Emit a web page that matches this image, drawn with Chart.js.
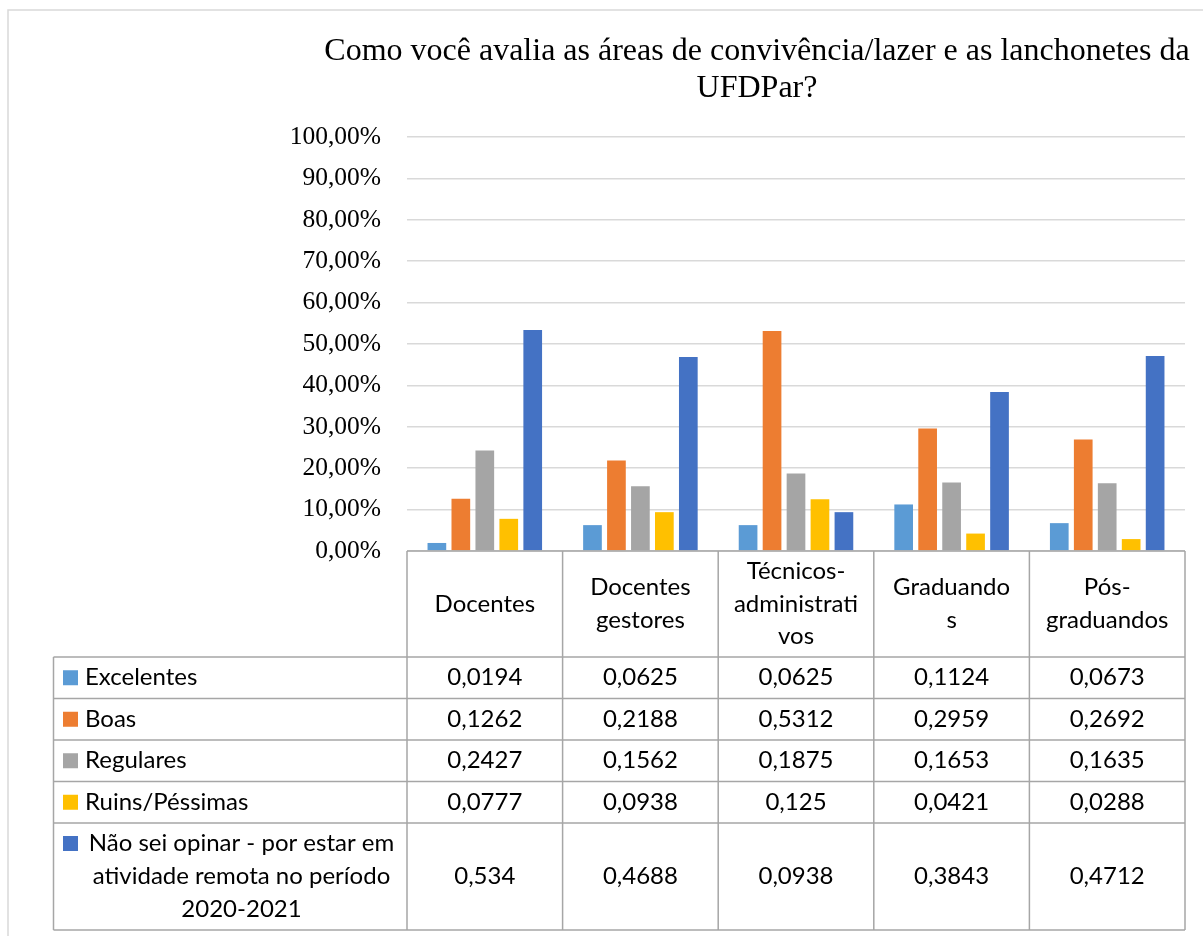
<!DOCTYPE html>
<html>
<head>
<meta charset="utf-8">
<script src="https://cdn.jsdelivr.net/npm/chart.js@4/dist/chart.umd.min.js"></script>
<style>
  html, body { margin: 0; padding: 0; background: #ffffff; }
  canvas { display: block; }
</style>
</head>
<body>
<canvas id="c" width="1203" height="936"></canvas>
<script>
// ---- data ----
const titleLines = ['Como você avalia as áreas de convivência/lazer e as lanchonetes da', 'UFDPar?'];
const categories = [['Docentes'], ['Docentes', 'gestores'], ['Técnicos-', 'administrati', 'vos'], ['Graduando', 's'], ['Pós-', 'graduandos']];
const seriesNames = [['Excelentes'], ['Boas'], ['Regulares'], ['Ruins/Péssimas'], ['Não sei opinar - por estar em', 'atividade remota no período', '2020-2021']];
const excelentes = [0.0194, 0.0625, 0.0625, 0.1124, 0.0673];
const boas = [0.1262, 0.2188, 0.5312, 0.2959, 0.2692];
const regulares = [0.2427, 0.1562, 0.1875, 0.1653, 0.1635];
const ruins = [0.0777, 0.0938, 0.125, 0.0421, 0.0288];
const naoSei = [0.534, 0.4688, 0.0938, 0.3843, 0.4712];
const yTicks = [0, 0.1, 0.2, 0.3, 0.4, 0.5, 0.6, 0.7, 0.8, 0.9, 1.0];

const seriesValues = [excelentes, boas, regulares, ruins, naoSei];
const colors = ['#5B9BD5', '#ED7D31', '#A5A5A5', '#FFC000', '#4472C4'];

const TABLE_FONT = '24px Lato';
const LINE_COLOR = '#a6a6a6';

const tablePlugin = {
  id: 'tablePlugin',
  afterDraw(chart) {
    const ctx = chart.ctx;
    const area = chart.chartArea;
    const xs = chart.scales.x;
    const n = chart.data.labels.length;
    const cw = (area.right - area.left) / n;
    const headerTop = area.bottom;
    const headerBottom = headerTop + 106;
    const rowH = [41.5, 41.5, 41.5, 41.5, 107];
    const tableLeft = 53.5;
    const rowTops = [headerBottom];
    rowH.forEach((h, i) => rowTops.push(rowTops[i] + h));
    const tableBottom = rowTops[rowTops.length - 1];

    ctx.save();
    // outer chart border
    ctx.strokeStyle = '#d9d9d9';
    ctx.lineWidth = 1.5;
    ctx.beginPath();
    ctx.moveTo(8, 936); ctx.lineTo(8, 10); ctx.lineTo(1203, 10);
    ctx.stroke();

    // title
    ctx.fillStyle = '#000';
    ctx.font = '32px "Liberation Serif"';
    ctx.textAlign = 'center';
    ctx.textBaseline = 'alphabetic';
    ctx.fillText(titleLines[0], 757, 60);
    ctx.fillText(titleLines[1], 757, 96.5);

    // table lines
    ctx.strokeStyle = LINE_COLOR;
    ctx.lineWidth = 1.5;
    ctx.beginPath();
    ctx.moveTo(area.left, headerTop); ctx.lineTo(area.right, headerTop);
    rowTops.forEach(y => { ctx.moveTo(tableLeft, y); ctx.lineTo(area.right, y); });
    for (let i = 0; i <= n; i++) {
      const x = area.left + i * cw;
      ctx.moveTo(x, headerTop); ctx.lineTo(x, tableBottom);
    }
    ctx.moveTo(tableLeft, headerBottom); ctx.lineTo(tableLeft, tableBottom);
    ctx.stroke();

    // header labels
    ctx.font = TABLE_FONT;
    ctx.fillStyle = '#000';
    ctx.textBaseline = 'middle';
    ctx.textAlign = 'center';
    const lh = 32.5;
    const hc = (headerTop + headerBottom) / 2;
    chart.data.labels.forEach((lines, i) => {
      const cx = xs.getPixelForValue(i);
      lines.forEach((t, k) => {
        ctx.fillText(t, cx, hc + (k - (lines.length - 1) / 2) * lh);
      });
    });

    // rows
    chart.data.datasets.forEach((ds, r) => {
      const top = rowTops[r], bottom = rowTops[r + 1];
      const cy = (top + bottom) / 2;
      const lines = seriesNames[r];
      const lh2 = 33;
      const firstY = cy - (lines.length - 1) / 2 * lh2;
      // swatch
      ctx.fillStyle = ds.backgroundColor;
      ctx.fillRect(63, firstY - 7.5, 15, 15);
      ctx.fillStyle = '#000';
      if (lines.length === 1) {
        ctx.textAlign = 'left';
        ctx.fillText(lines[0], 85, cy);
      } else {
        ctx.textAlign = 'center';
        const tc = (85 + 398) / 2;
        lines.forEach((t, k) => ctx.fillText(t, tc, firstY + k * lh2));
      }
      ctx.textAlign = 'center';
      ds.data.forEach((v, i) => {
        const cx = xs.getPixelForValue(i);
        ctx.fillText(String(v).replace('.', ','), cx, cy);
      });
    });
    ctx.restore();
  }
};

new Chart(document.getElementById('c'), {
  type: 'bar',
  data: {
    labels: categories,
    datasets: seriesNames.map((nm, i) => ({
      label: nm.join(' '),
      data: seriesValues[i],
      backgroundColor: colors[i],
      borderWidth: 0,
      categoryPercentage: 0.77,
      barPercentage: 0.78
    }))
  },
  options: {
    responsive: false,
    animation: false,
    layout: { padding: { top: 137, right: 18, bottom: 385, left: 0 } },
    plugins: { legend: { display: false }, title: { display: false }, tooltip: { enabled: false } },
    scales: {
      x: { display: false },
      y: {
        min: 0, max: 1,
        afterBuildTicks(s) { s.ticks = yTicks.map(v => ({ value: v })); },
        afterFit(s) { s.width = 407; },
        ticks: {
          padding: 26,
          color: '#000',
          font: { family: 'Liberation Serif', size: 25.5 },
          callback: v => (Math.round(v * 100)).toFixed(2).replace('.', ',') + '%'
        },
        grid: { color: '#d9d9d9', lineWidth: 1.5, drawTicks: false },
        border: { display: false }
      }
    }
  },
  plugins: [tablePlugin]
});
</script>
</body>
</html>
